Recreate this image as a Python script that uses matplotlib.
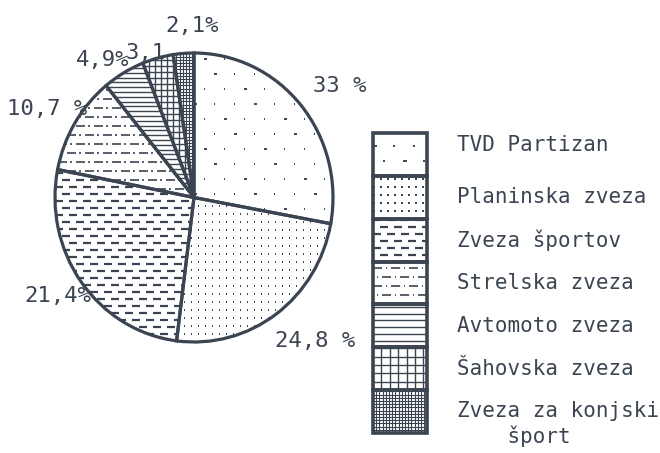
import numpy as np
import matplotlib
matplotlib.use('Agg')
import matplotlib.pyplot as plt
from matplotlib.patches import Rectangle
from matplotlib.collections import LineCollection
from matplotlib.transforms import IdentityTransform, blended_transform_factory

plt.rcParams['font.family'] = ['DejaVu Sans Mono', 'DejaVu Sans']

INK = '#3b4451'

organizations = ['TVD Partizan', 'Planinska zveza', 'Zveza športov',
                 'Strelska zveza', 'Avtomoto zveza', 'Šahovska zveza',
                 'Zveza za konjski\n    šport']
share_labels = ['33 %', '24,8 %', '21,4%', '10,7 %', '4,9%', '3,1', '2,1%']
# slice sizes as they are drawn in the original (hand drawn, not quite to scale)
drawn_share = [27.9, 24.1, 26.1, 11.0, 4.9, 3.6, 2.4]
patterns = ['sparse', 'dots', 'dashes', 'dashdots', 'lines', 'grid', 'finegrid']


def pattern_segments(kind, x0, y0, x1, y1, s=1.0):
    """short segments (display pixels) that make up the fill pattern"""
    segs = []
    if kind in ('lines', 'grid', 'finegrid'):
        step = {'lines': 4.8, 'grid': 6, 'finegrid': 3.2}[kind] * s
        for y in np.arange(y0, y1 + step, step):
            segs.append([(x0, y), (x1, y)])
        if kind != 'lines':
            for x in np.arange(x0, x1 + step, step):
                segs.append([(x, y0), (x, y1)])
        return segs
    dx, dy = {'sparse': (20, 15), 'dots': (7, 8),
              'dashes': (14, 7), 'dashdots': (18, 9)}[kind]
    dx, dy = dx * s, dy * s
    for j, y in enumerate(np.arange(y0, y1 + dy, dy)):
        off = 0 if kind == 'dots' else (j % 2) * dx / 2
        for i, x in enumerate(np.arange(x0 - dx + off, x1 + dx, dx)):
            if kind == 'sparse':
                L = 3.5 if (i + j) % 3 == 0 else 1.5
                segs.append([(x, y), (x + L, y)])
            elif kind == 'dots':
                segs.append([(x, y), (x + 1.8, y)])
            elif kind == 'dashes':
                segs.append([(x, y), (x + 8 * s, y)])
            else:
                segs.append([(x, y), (x + 9 * s, y)])
                segs.append([(x + 12.5 * s, y), (x + 14 * s, y)])
    return segs


def fill_pattern(ax, patch, kind, s=1.0):
    bb = patch.get_window_extent()
    segs = pattern_segments(kind, bb.x0, bb.y0, bb.x1, bb.y1, s)
    lw = {'sparse': 1.4, 'dots': 1.4, 'dashes': 1.6, 'dashdots': 1.2,
          'lines': 1.0, 'grid': 1.0, 'finegrid': 0.8}[kind]
    lc = LineCollection(segs, colors=INK, linewidths=lw,
                        transform=IdentityTransform(), zorder=1)
    ax.add_collection(lc, autolim=False)
    lc.set_clip_path(patch)


fig = plt.figure(figsize=(6.6, 4.53), dpi=100)
W, H = 660, 453

# pie, slightly taller than wide like the scan
ax = fig.add_axes([55 / W, (H - 342) / H, 278 / W, 289 / H])
wedges, _ = ax.pie(drawn_share, startangle=90, counterclock=False,
                   colors=['white'] * len(drawn_share),
                   wedgeprops=dict(edgecolor=INK, linewidth=2.3))
ax.set_aspect('auto')
ax.set_xlim(-1, 1)
ax.set_ylim(-1, 1)
ax.axis('off')
for w, kind in zip(wedges, patterns):
    w.set_clip_on(False)
    w.set_zorder(2)
    w.set_facecolor('none')
    fill_pattern(ax, w, kind)

label_xy = [(1.05, 0.77), (0.87, -0.99), (-0.98, -0.68), (-1.06, 0.61),
            (-0.66, 0.95), (-0.35, 1.0), (-0.01, 1.19)]
for txt, (x, y) in zip(share_labels, label_xy):
    ax.text(x, y, txt, ha='center', va='center', fontsize=16, color=INK)

# legend column
lg = fig.add_axes([373 / W, (H - 433) / H, 54 / W, 300 / H])
n = len(organizations)
lg.set_xlim(0, 1)
lg.set_ylim(0, n)
lg.axis('off')
tr = blended_transform_factory(fig.transFigure, lg.transData)
for i, (name, kind) in enumerate(zip(organizations, patterns)):
    y = n - 1 - i
    box = Rectangle((0, y), 1, 1, facecolor='none', edgecolor=INK,
                    linewidth=2.6, clip_on=False, zorder=2)
    lg.add_patch(box)
    fill_pattern(lg, box, kind, s=1.4 if kind in ('lines', 'grid') else 1.0)
    if '\n' in name:
        lg.text(457 / W, y + 0.22, name, transform=tr, ha='left', va='center',
                linespacing=1.25, fontsize=15, color=INK)
    else:
        ty = y + 0.72 if i == 0 else y + 0.5
        lg.text(457 / W, ty, name, transform=tr, ha='left', va='center',
                fontsize=15, color=INK)

fig.savefig('out.png', dpi=100, facecolor='white')
